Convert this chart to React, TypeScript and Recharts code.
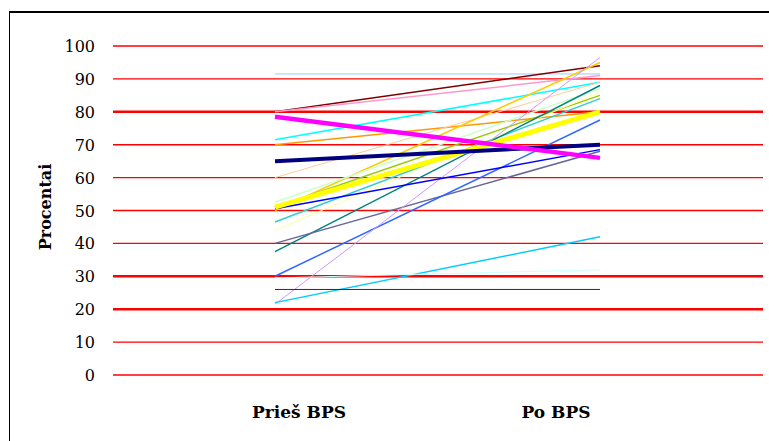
import { LineChart, Line, XAxis, YAxis, CartesianGrid, ReferenceLine, Label } from "recharts";

const categories = ["Prieš BPS", "Po BPS"];
const yTicks = [0, 10, 20, 30, 40, 50, 60, 70, 80, 90, 100];

// each respondent: value before and after
const beforeValues = [91.5, 80, 80, 71.5, 70, 60, 50, 52.5, 51, 51, 44, 46.5, 37.5, 40, 30, 21.5, 22, 29.5, 26, 50.5, 51, 65, 78.5];
const afterValues = [91.5, 94, 91, 89, 80, 89, 95, 87, 85, 80, 86, 84, 88, 68, 77.5, 96.5, 42, 32, 26, 68.5, 80, 70, 66];

// line styles (colour, width) in draw order
const seriesColors = ["#99ccff", "#800000", "#ff99cc", "#00ffff", "#ff9900", "#ffcc99", "#ffcc00", "#ccffcc", "#99cc00", "#ff6600", "#ffff99", "#33cccc", "#008080", "#666699", "#3366ff", "#cc99ff", "#00ccff", "#ccffff", "#660066", "#0000ff", "#ffff00", "#000080", "#ff00ff"];
const seriesWidths = [1, 1.5, 1.5, 1.5, 1.5, 1, 1.5, 1.5, 1.5, 1.5, 1, 1.5, 1.5, 1.5, 1.5, 1, 1.5, 1, 1, 1.5, 5, 4, 4.5];

const data = categories.map((name, i) => {
  const row: Record<string, string | number> = { name };
  const vals = i === 0 ? beforeValues : afterValues;
  vals.forEach((v, k) => {
    row["s" + k] = v;
  });
  return row;
});

const serif = '"DejaVu Serif", "Liberation Serif", serif';

const YTick = ({ y, payload }: any) => (
  <text x={95} y={y} dy={6} textAnchor="end" fontFamily={serif} fontSize={16} fill="#000">
    {payload.value}
  </text>
);

const XTick = ({ x, payload }: any) => {
  const shift = payload.index === 0 ? 24 : -44;
  return (
    <text x={x + shift} y={418} textAnchor="middle" fontFamily={serif} fontSize={17} fontWeight="bold" fill="#000">
      {payload.value}
    </text>
  );
};

const YLabel = () => (
  <text x={51} y={207} textAnchor="middle" transform="rotate(-90 51 207)" fontFamily={serif} fontSize={16} fontWeight="bold" fill="#000">
    Procentai
  </text>
);

export default function App() {
  return (
    <div style={{ position: "absolute", left: 0, top: 0, width: 769, height: 441, background: "#fff", overflow: "hidden" }}>
      <div style={{ position: "absolute", left: 9, top: 11, right: -5, bottom: -5, borderTop: "2px solid #000", borderLeft: "1px solid #000" }} />
      <div style={{ position: "absolute", left: 0, top: 0 }}>
        <LineChart width={769} height={441} data={data} margin={{ top: 46, right: 6, bottom: 0, left: 0 }}>
          <CartesianGrid vertical={false} stroke="#ff0000" strokeWidth={1.4} />
          <XAxis
            dataKey="name"
            axisLine={false}
            tickLine={false}
            height={66}
            padding={{ left: 162, right: 163 }}
            tick={<XTick />}
            interval={0}
          />
          <YAxis
            domain={[0, 100]}
            ticks={yTicks}
            width={113}
            axisLine={false}
            tickLine={false}
            tick={<YTick />}
          >
            <Label content={<YLabel />} />
          </YAxis>
          <ReferenceLine y={80} stroke="#ff0000" strokeWidth={2.5} />
          <ReferenceLine y={30} stroke="#ff0000" strokeWidth={2.5} />
          <ReferenceLine y={20} stroke="#ff0000" strokeWidth={2.5} />
          {seriesColors.map((c, k) => (
            <Line
              key={k}
              type="linear"
              dataKey={"s" + k}
              stroke={c}
              strokeWidth={seriesWidths[k]}
              dot={false}
              activeDot={false}
              isAnimationActive={false}
            />
          ))}
        </LineChart>
      </div>
    </div>
  );
}
